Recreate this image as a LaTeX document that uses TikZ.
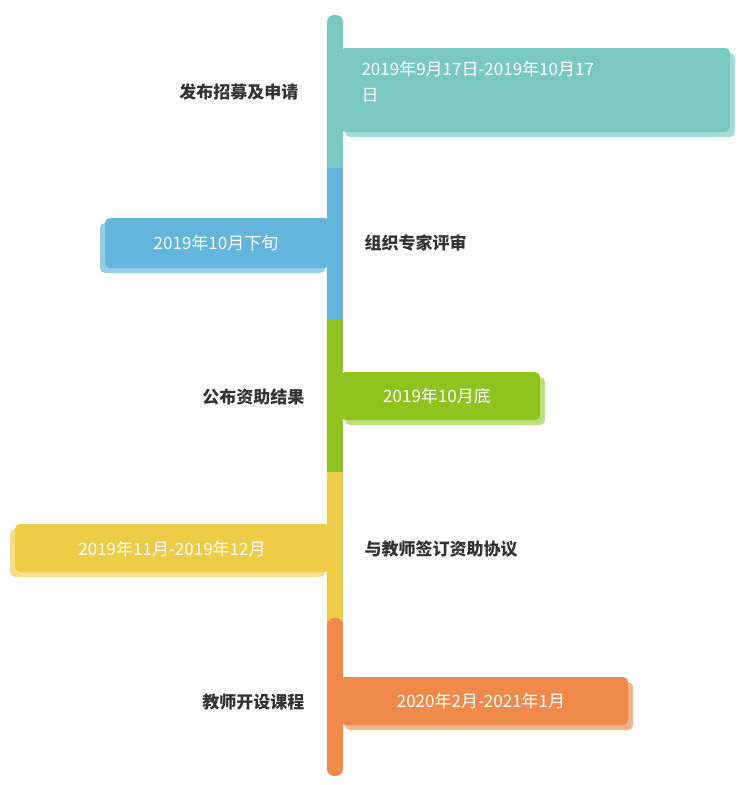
\documentclass[tikz,border=0pt]{standalone}
\usepackage{fontspec}
\setmainfont{Noto Sans CJK SC}
\newfontfamily\cjkb[BoldFont={Noto Sans CJK SC Bold}]{Noto Sans CJK SC}
\definecolor{cteal}{HTML}{79C9C1}\definecolor{steal}{HTML}{A6DCD6}
\definecolor{cblue}{HTML}{64B5DD}\definecolor{sblue}{HTML}{98CDEA}
\definecolor{cgreen}{HTML}{8DC21F}\definecolor{sgreen}{HTML}{BEDD80}
\definecolor{cyel}{HTML}{EDCC47}\definecolor{syel}{HTML}{F4DE8A}
\definecolor{corg}{HTML}{F08A4B}\definecolor{sorg}{HTML}{F5B38A}
\definecolor{txt}{HTML}{333333}
\tikzset{dt/.style={text=white,font=\fontsize{17}{26}\selectfont},
lab/.style={text=txt,font=\fontsize{17}{20}\selectfont\bfseries}}
\begin{document}
\begin{tikzpicture}[x=1pt,y=-1pt]
\useasboundingbox (0,0) rectangle (750,785);
% bar
\fill[cteal,rounded corners=7] (327,15) rectangle (343,175);
\fill[cteal] (327,160) rectangle (343,168);
\fill[cblue] (327,168) rectangle (343,320);
\fill[cgreen] (327,320) rectangle (343,472);
\fill[cyel] (327,472) rectangle (343,625);
\fill[corg,rounded corners=7] (327,618) rectangle (343,776);
\fill[corg] (327,625) rectangle (343,640);
% box1
\fill[steal,rounded corners=5] (345,53) rectangle (735,137);
\fill[cteal,rounded corners=5] (340,48) rectangle (730,132);
\node[dt,anchor=north west,align=left] (d1) at (358,58) {2019年9月17日-2019年10月17\\日};
\node[lab,anchor=east] (l1) at (302,92) {发布招募及申请};
% box2
\fill[sblue,rounded corners=5] (100,223) rectangle (325,273);
\fill[cblue,rounded corners=5] (105,218) rectangle (330,268);
\node[dt] (d2) at (216,243) {2019年10月下旬};
\node[lab,anchor=west] (l2) at (361,243) {组织专家评审};
% box3
\fill[sgreen,rounded corners=5] (345,377) rectangle (545,425);
\fill[cgreen,rounded corners=5] (340,372) rectangle (540,420);
\node[dt] (d3) at (437,396) {2019年10月底};
\node[lab,anchor=east] (l3) at (308,397) {公布资助结果};
% box4
\fill[syel,rounded corners=5] (10,529) rectangle (325,577);
\fill[cyel,rounded corners=5] (15,524) rectangle (330,572);
\node[dt] (d4) at (172,549) {2019年11月-2019年12月};
\node[lab,anchor=west] (l4) at (361,549) {与教师签订资助协议};
% box5
\fill[sorg,rounded corners=5] (345,682) rectangle (633,730);
\fill[corg,rounded corners=5] (340,677) rectangle (628,725);
\node[dt] (d5) at (481,701) {2020年2月-2021年1月};
\node[lab,anchor=east] (l5) at (308,702) {教师开设课程};
\end{tikzpicture}
\end{document}
